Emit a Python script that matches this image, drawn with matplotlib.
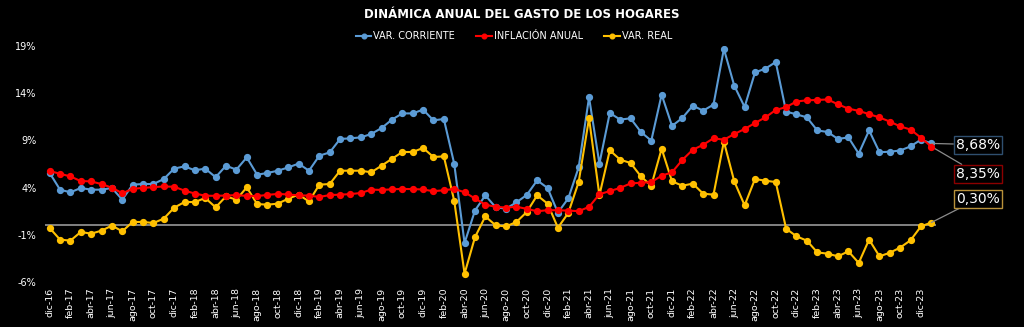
import matplotlib
matplotlib.use("Agg")
import matplotlib.pyplot as plt
import numpy as np

# meses dic-16 ... ene-24
meses = ["ene", "feb", "mar", "abr", "may", "jun", "jul", "ago", "sep", "oct", "nov", "dic"]
periodos = ["dic-16"] + [f"{m}-{a}" for a in range(17, 24) for m in meses] + ["ene-24"]

var_corriente = [
    5.55, 3.78, 3.50, 3.96, 3.78, 3.78, 3.96, 2.72, 4.31, 4.38, 4.38, 4.91, 6.01,
    6.25, 5.83, 6.01, 5.10, 6.32, 5.90, 7.20, 5.37, 5.55, 5.79, 6.14, 6.54,
    5.79, 7.38, 7.73, 9.15, 9.22, 9.32, 9.68, 10.31, 11.20, 11.86, 11.86, 12.26,
    11.12, 11.27, 6.54, -1.87, 1.56, 3.18, 1.91, 1.77, 2.44, 3.22, 4.77, 3.96,
    1.35, 2.86, 6.14, 13.56, 6.54, 11.91, 11.20, 11.34, 9.89, 8.97, 13.85, 10.53,
    11.38, 12.68, 12.15, 12.79, 18.69, 14.80, 12.54, 16.20, 16.60, 17.30, 12.05, 11.76,
    11.44, 10.06, 9.89, 9.15, 9.32, 7.60, 10.06, 7.75, 7.80, 7.93, 8.37, 9.08,
    8.68,
]

inflacion = [
    5.75, 5.47, 5.18, 4.69, 4.66, 4.37, 3.99, 3.40, 3.87, 3.97, 4.05, 4.12, 4.09,
    3.68, 3.37, 3.14, 3.13, 3.16, 3.20, 3.12, 3.10, 3.23, 3.33, 3.27, 3.18,
    3.15, 3.01, 3.21, 3.25, 3.31, 3.43, 3.79, 3.75, 3.82, 3.86, 3.84, 3.80,
    3.62, 3.72, 3.86, 3.51, 2.85, 2.19, 1.97, 1.88, 1.97, 1.75, 1.49, 1.61,
    1.60, 1.56, 1.51, 1.95, 3.30, 3.63, 3.97, 4.44, 4.51, 4.58, 5.26, 5.62,
    6.94, 8.01, 8.53, 9.23, 9.07, 9.67, 10.21, 10.84, 11.44, 12.22, 12.53, 13.12,
    13.25, 13.28, 13.34, 12.82, 12.36, 12.13, 11.78, 11.43, 10.99, 10.48, 10.15, 9.28,
    8.35,
]

var_real = [
    -0.28, -1.51, -1.62, -0.70, -0.88, -0.56, -0.03, -0.63, 0.36, 0.36, 0.25, 0.71, 1.87,
    2.47, 2.47, 2.90, 1.91, 3.07, 2.72, 4.03, 2.26, 2.19, 2.30, 2.83, 3.25,
    2.54, 4.31, 4.38, 5.79, 5.79, 5.79, 5.62, 6.32, 7.05, 7.77, 7.77, 8.20,
    7.24, 7.31, 2.62, -5.12, -1.27, 0.95, 0.00, -0.11, 0.36, 1.42, 3.18, 2.30,
    -0.25, 1.31, 4.59, 11.34, 3.18, 7.95, 6.96, 6.61, 5.19, 4.20, 8.12, 4.66,
    4.20, 4.42, 3.36, 3.25, 8.87, 4.66, 2.12, 4.91, 4.73, 4.59, -0.35, -1.16,
    -1.62, -2.86, -3.00, -3.28, -2.75, -3.98, -1.51, -3.28, -2.90, -2.35, -1.58, -0.11,
    0.30,
]

AZUL = "#5B9BD5"
ROJO = "#FF0000"
AMARILLO = "#FFC000"

fig = plt.figure(figsize=(10.24, 3.27), dpi=100, facecolor="black")
ax = fig.add_axes([45 / 1024, 1 - 282 / 327, (936 - 45) / 1024, 236 / 327])
ax.set_facecolor("black")

x = np.arange(len(periodos))
ax.axhline(0, color="#8C8C8C", lw=1.3, zorder=1)

estilo = dict(marker="o", markersize=4.2, lw=1.5)
ax.plot(x, var_corriente, color=AZUL, label="VAR. CORRIENTE", zorder=3, **estilo)
ax.plot(x, inflacion, color=ROJO, label="INFLACIÓN ANUAL", zorder=4, **estilo)
ax.plot(x, var_real, color=AMARILLO, label="VAR. REAL", zorder=3, **estilo)

ax.set_xlim(-0.45, len(periodos) - 0.55)
ax.set_ylim(-6, 19)
ax.set_yticks([-6, -1, 4, 9, 14, 19])
ax.set_yticklabels([f"{v}%" for v in [-6, -1, 4, 9, 14, 19]])
ax.set_xticks(x[::2])
ax.set_xticklabels(periodos[::2], rotation=90)
ax.tick_params(colors="white", length=0, labelsize=7)
ax.tick_params(axis="x", labelsize=6.8, pad=4)
ax.tick_params(axis="y", pad=6)
for s in ax.spines.values():
    s.set_visible(False)

# etiquetas finales
n = len(periodos) - 1
etiquetas = [
    (var_corriente[-1], 8.55, AZUL, "#2F4F6F"),
    (inflacion[-1], 5.45, ROJO, "#8B0000"),
    (var_real[-1], 2.80, AMARILLO, "#B8913A"),
]
for val, ytxt, col, borde in etiquetas:
    ax.annotate(
        f"{val:.2f}%".replace(".", ","), xy=(n, val), xytext=(89.5, ytxt),
        color="white", fontsize=10, ha="center", va="center",
        bbox=dict(boxstyle="square,pad=0.15", fc="black", ec=borde, lw=1),
        arrowprops=dict(arrowstyle="-", color="#8C8C8C", lw=0.9, shrinkA=0, shrinkB=0),
        annotation_clip=False,
    )

fig.text(0.51, 1 - 15 / 327, "DINÁMICA ANUAL DEL GASTO DE LOS HOGARES",
         color="white", fontsize=8.5, fontweight="heavy", ha="center", va="center")
fig.legend(loc="center", bbox_to_anchor=(0.502, 1 - 36 / 327), ncol=3, frameon=False,
           fontsize=7, labelcolor="white", handlelength=1.6, columnspacing=2.2,
           handletextpad=0.2, markerscale=0.8)

fig.savefig("out.png", dpi=100, facecolor="black")
